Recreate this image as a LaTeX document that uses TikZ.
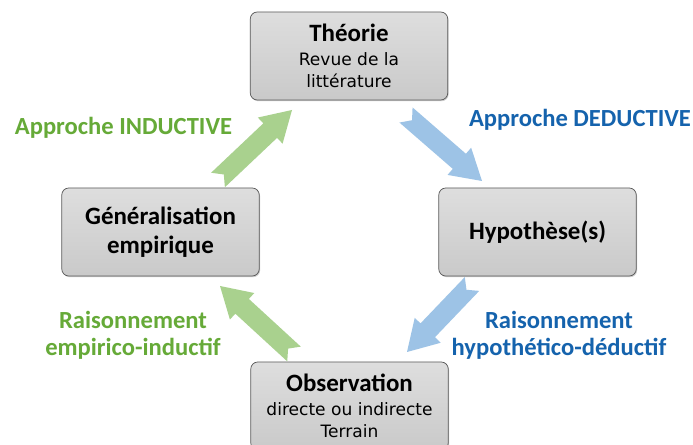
\documentclass[tikz,border=0pt]{standalone}
\usepackage{fontspec}
\setmainfont{Carlito}
\newfontfamily\dejavu{DejaVu Sans}
\usetikzlibrary{calc,shadows}
\definecolor{vertfleche}{HTML}{A9D18E}
\definecolor{bleufleche}{HTML}{9DC3E6}
\definecolor{verttexte}{HTML}{66AA38}
\definecolor{bleutexte}{HTML}{1563AD}
\tikzstyle{boite}=[draw=black!65, thin, rounded corners=4pt, top color=black!13, bottom color=black!21,
  minimum width=3.95cm, minimum height=1.76cm, align=center, inner sep=2pt,
  font=\dejavu\fontsize{9.7}{12.5}\selectfont,
  drop shadow={opacity=0.4, shadow xshift=0.5pt, shadow yshift=-0.7pt}]
\tikzstyle{approche}=[font=\bfseries\fontsize{14}{16}\selectfont, inner sep=0pt]
\tikzstyle{raisonnement}=[font=\bfseries\fontsize{14}{15.5}\selectfont, align=center, inner sep=0pt]
\newcommand{\titre}[1]{{\rmfamily\bfseries\fontsize{14.2}{16}\selectfont #1}}
% fleche pleine a queue entaillee : couleur, queue, pointe
\newcommand{\fleche}[3]{%
  \coordinate (base) at ($(#3)!0.6cm!(#2)$);
  \fill[#1] ($(#2)!0.2cm!90:(#3)$) -- ($(base)!0.2cm!-90:(#2)$) -- ($(base)!0.36cm!-90:(#2)$)
    -- (#3) -- ($(base)!0.36cm!90:(#2)$) -- ($(base)!0.2cm!90:(#2)$)
    -- ($(#2)!0.2cm!-90:(#3)$) -- ($(#2)!0.16cm!(#3)$) -- cycle;}

\begin{document}
\begin{tikzpicture}
    \clip (0,0) rectangle (13.86,8.9);
    \fill[white] (0,0) rectangle (13.86,8.9);

    \node [boite] (theorie) at (6.98,7.78) {\titre{Théorie}\\[1pt]Revue de la\\littérature};
    \node [boite] (generalisation) at (3.21,4.26) {\titre{Généralisation}\\[4pt]\titre{empirique}};
    \node [boite] (hypothese) at (10.75,4.26) {\titre{Hypothèse(s)}};
    \node [boite] (observation) at (6.99,0.78) {\titre{Observation}\\[1pt]directe ou indirecte\\Terrain};

    % les quatre fleches
    \coordinate (ind1) at (4.36,5.30);
    \coordinate (ind2) at (5.84,6.70);
    \coordinate (ded1) at (8.12,6.60);
    \coordinate (ded2) at (9.64,5.28);
    \coordinate (hyp1) at (9.44,3.22);
    \coordinate (hyp2) at (8.14,1.86);
    \coordinate (emp1) at (5.88,1.82);
    \coordinate (emp2) at (4.40,3.18);
    \fleche{vertfleche}{ind1}{ind2}
    \fleche{bleufleche}{ded1}{ded2}
    \fleche{bleufleche}{hyp1}{hyp2}
    \fleche{vertfleche}{emp1}{emp2}

    \node [approche, text=verttexte] (inductive) at (2.47,6.34) {Approche INDUCTIVE};
    \node [approche, text=bleutexte] (deductive) at (11.6,6.5) {Approche DEDUCTIVE};
    \node [raisonnement, text=verttexte] (empirico) at (2.66,2.2) {Raisonnement\\empirico-inductif};
    \node [raisonnement, text=bleutexte] (hypothetico) at (11.18,2.2) {Raisonnement\\hypothético-déductif};
\end{tikzpicture}
\end{document}
